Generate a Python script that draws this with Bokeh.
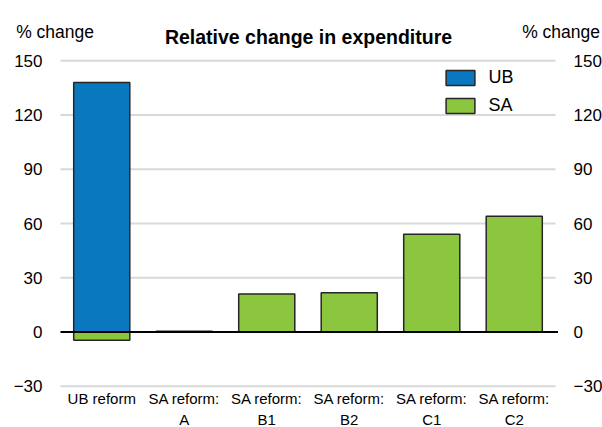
from bokeh.plotting import figure
from bokeh.models import (Range1d, LinearAxis, FixedTicker, Label, Legend, LegendItem)
from bokeh.embed import file_html
from bokeh.resources import INLINE

categories = ["UB reform", "SA reform:\nA", "SA reform:\nB1", "SA reform:\nB2",
              "SA reform:\nC1", "SA reform:\nC2"]
ub_values = [138, 0, 0, 0, 0, 0]
sa_values = [-4.5, 0.4, 21, 21.7, 54, 64]
y_ticks = [-30, 0, 30, 60, 90, 120, 150]
series_names = ["UB", "SA"]
title_text = "Relative change in expenditure"
unit_text = "% change"

BLUE = "#0A78BE"
GREEN = "#8CC63F"
EDGE = "#262626"
GRID = "#d9d9d9"
FONT = "Liberation Sans"

n = len(categories)
x_pos = [i + 0.5 for i in range(n)]
PX = 82.5  # pixels per category slot

W, H = 602, 427
p = figure(width=W, height=H,
           x_range=Range1d(-60 / PX, n + 47 / PX),
           y_range=Range1d(-52.81, 183.32),
           output_backend="svg", toolbar_location=None,
           min_border_left=0, min_border_right=0, min_border_top=0, min_border_bottom=0,
           x_axis_location=None, y_axis_location=None)
p.outline_line_color = None
for g in p.grid:
    g.visible = False

yticker = FixedTicker(ticks=y_ticks)
left_axis = LinearAxis(ticker=yticker, fixed_location=0)
right_axis = LinearAxis(ticker=yticker, fixed_location=n)
p.add_layout(left_axis, "left")
p.add_layout(right_axis, "right")
for ax, st in ((left_axis, 18), (right_axis, 18)):
    ax.axis_line_color = None
    ax.major_tick_line_color = None
    ax.minor_tick_line_color = None
    ax.major_tick_out = 0
    ax.minor_tick_out = 0
    ax.major_label_standoff = st
    ax.major_label_text_font = FONT
    ax.major_label_text_font_size = "17px"
    ax.major_label_text_color = "#000000"

xaxis = LinearAxis(ticker=FixedTicker(ticks=x_pos), fixed_location=-30,
                   major_label_overrides={x: c for x, c in zip(x_pos, categories)})
xaxis.axis_line_color = None
xaxis.major_tick_line_color = None
xaxis.minor_tick_line_color = None
xaxis.major_tick_out = 0
xaxis.minor_tick_out = 0
xaxis.major_label_standoff = 4
xaxis.major_label_text_font = FONT
xaxis.major_label_text_font_size = "15px"
xaxis.major_label_text_color = "#000000"
xaxis.major_label_text_line_height = 1.2
p.add_layout(xaxis, "below")

# horizontal grid lines across the category area
p.segment(x0=[0] * len(y_ticks), x1=[n] * len(y_ticks), y0=y_ticks, y1=y_ticks,
          line_color=GRID, line_width=2)

r_ub = p.vbar(x=x_pos, top=ub_values, bottom=0, width=0.68,
              fill_color=BLUE, line_color=EDGE, line_width=1.5)
r_sa = p.vbar(x=x_pos, top=sa_values, bottom=0, width=0.68,
              fill_color=GREEN, line_color=EDGE, line_width=1.5)

# zero line
p.segment(x0=[0], x1=[n + 0.03], y0=[0], y1=[0], line_color="#000000", line_width=2)

legend = Legend(items=[LegendItem(label=series_names[0], renderers=[r_ub]),
                       LegendItem(label=series_names[1], renderers=[r_sa])],
                location=(442.4, 309.6), orientation="vertical",
                glyph_width=36, glyph_height=19, label_standoff=10, spacing=5,
                label_height=23,
                padding=0, margin=0, border_line_color=None, background_fill_alpha=0,
                label_text_font=FONT, label_text_font_size="18px",
                label_text_color="#000000")
p.add_layout(legend)

p.add_layout(Label(x=3.006, y=163.02, text=title_text,
                   text_align="center", text_baseline="alphabetic",
                   text_font=FONT, text_font_style="bold", text_font_size="19.5px",
                   text_color="#000000"))
p.add_layout(Label(x=-0.537, y=165.79, text=unit_text,
                   text_align="left", text_baseline="alphabetic",
                   text_font=FONT, text_font_size="17.5px", text_color="#000000"))
p.add_layout(Label(x=5.596, y=165.79, text=unit_text,
                   text_align="left", text_baseline="alphabetic",
                   text_font=FONT, text_font_size="17.5px", text_color="#000000"))

open("out.html", "w").write(file_html(p, INLINE))
